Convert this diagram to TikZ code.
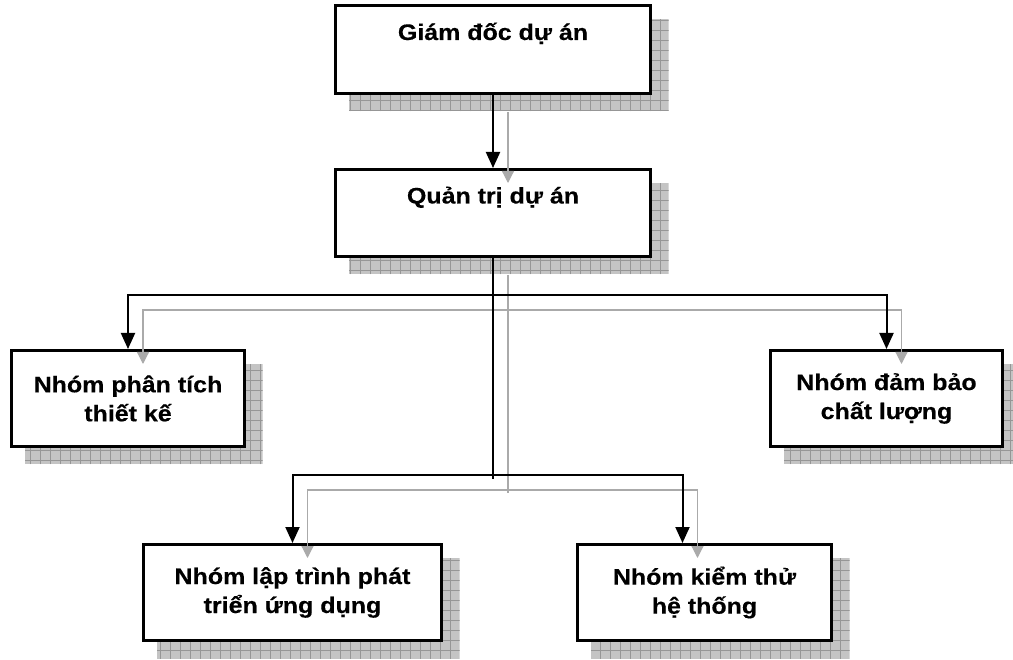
\documentclass[tikz,border=0pt]{standalone}
\usepackage{fontspec}
\setmainfont{Liberation Sans}[FakeStretch=1.11,BoldFeatures={FakeBold=0.3}]
\usetikzlibrary{arrows.meta,calc,backgrounds}
\definecolor{shfill}{RGB}{196,196,196}
\definecolor{shgrid}{RGB}{150,150,150}
\definecolor{ghost}{RGB}{170,170,170}
\begin{document}
\begin{tikzpicture}[x=1pt,y=-1pt,
  box/.style={draw=black,line width=3pt,fill=white,align=center,
    font=\bfseries\fontsize{22.5}{29}\selectfont,inner sep=0pt},
  onebox/.style={box,text height=17pt,text depth=36pt},
  conn/.style={line width=2pt,draw=black},
  arr/.style={-{Triangle[width=14pt,length=16pt]}},
  ghostline/.style={line width=1.2pt,draw=ghost},
  garr/.style={-{Triangle[width=12pt,length=12pt,fill=ghost,color=ghost]}},
]
\useasboundingbox (0,0) rectangle (1013,660);

\node[onebox,minimum width=315pt,minimum height=88pt] (B1) at (493,49.5) {Giám đốc dự án};
\node[onebox,minimum width=315pt,minimum height=87pt] (B2) at (493,213) {Quản trị dự án};
\node[box,minimum width=233pt,minimum height=96pt] (B3) at (128,398.5) {Nhóm phân tích\\thiết kế};
\node[box,minimum width=232pt,minimum height=96pt] (B4) at (886.5,398.5) {Nhóm đảm bảo\\chất lượng};
\node[box,minimum width=298pt,minimum height=96pt] (B5) at (292.5,592.5) {Nhóm lập trình phát\\triển ứng dụng};
\node[box,minimum width=254pt,minimum height=96pt] (B6) at (704.5,592.5) {Nhóm kiểm thử\\hệ thống};

\begin{scope}[on background layer]
\foreach \bx in {B1,B2,B3,B4,B5,B6}{
  \begin{scope}
  \clip ($(\bx.north west)+(15,15)$) rectangle ($(\bx.south east)+(16.5,16.5)$);
  \fill[shfill] ($(\bx.north west)+(15,15)$) rectangle ($(\bx.south east)+(16.5,16.5)$);
  \draw[shgrid,line width=0.6pt,step=10pt] ($(\bx.north west)+(15,15)$) grid ($(\bx.south east)+(16.5,16.5)$);
  \end{scope}
}
\end{scope}

% ghost (shadow) connectors
\coordinate (gA) at ($(B1.south)+(15,17)$);
\coordinate (gB) at ($(B2.north)+(15,15)$);
\coordinate (gC) at ($(B2.south)+(15,17)$);
\coordinate (gJ) at (508,493);
\coordinate (gU) at (508,310);
\coordinate (gL) at (508,490);
\coordinate (g3) at ($(B3.north)+(15,15)$);
\coordinate (g4) at ($(B4.north)+(15,15)$);
\coordinate (g5) at ($(B5.north)+(15,15)$);
\coordinate (g6) at ($(B6.north)+(-7,15)$);
\draw[ghostline,garr] (gA) -- (gB);
\draw[ghostline] (gC) -- (gJ);
\draw[ghostline,garr] (gU) -| (g3);
\draw[ghostline,garr] (gU) -| (g4);
\draw[ghostline,garr] (gL) -| (g5);
\draw[ghostline,garr] (gL) -| (g6);

% black connectors
\coordinate (J) at (493,479);
\coordinate (U) at (493,295);
\coordinate (L) at (493,475);
\coordinate (B6in) at ($(B6.north)+(-22,0)$);
\draw[conn,arr] (B1.south) -- (B2.north);
\draw[conn] (B2.south) -- (J);
\draw[conn,arr] (U) -| (B3.north);
\draw[conn,arr] (U) -| (B4.north);
\draw[conn,arr] (L) -| (B5.north);
\draw[conn,arr] (L) -| (B6in);
\end{tikzpicture}
\end{document}
